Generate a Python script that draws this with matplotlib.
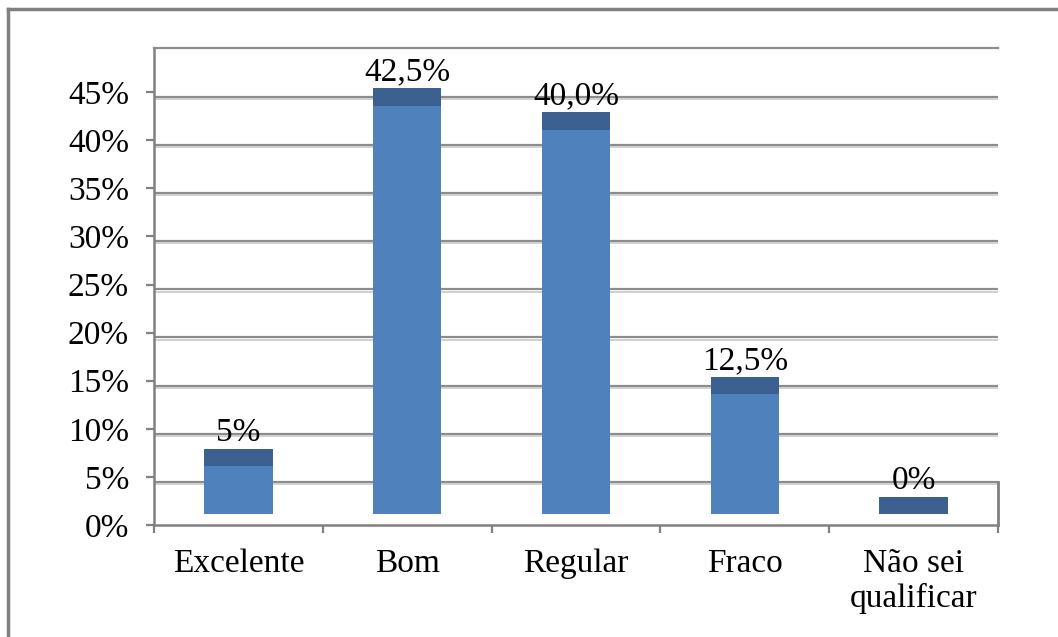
import matplotlib
matplotlib.use("Agg")
import matplotlib.pyplot as plt
from matplotlib.lines import Line2D

# respostas por categoria (%)
categorias = ["Excelente", "Bom", "Regular", "Fraco", "Não sei\nqualificar"]
valores = [5.0, 42.5, 40.0, 12.5, 0.0]
rotulos = ["5%", "42,5%", "40,0%", "12,5%", "0%"]
yticks = [0, 5, 10, 15, 20, 25, 30, 35, 40, 45]

fontsize = 24
cinza = "#808080"
azul = "#4F81BD"
azul_topo = "#3C6090"
piso = 1.1      # altura da base das barras (efeito 3D)
topo = 1.8      # face superior das barras
recuo = 0.5     # grade desenhada na parede do fundo

plt.rcParams["font.family"] = ["Liberation Serif", "DejaVu Serif"]

W, H = 1058, 637
fig = plt.figure(figsize=(W / 100, H / 100), dpi=100)
ax = fig.add_axes([154 / W, (H - 525) / H, (998 - 154) / W, (525 - 48) / H])

x = list(range(len(categorias)))
ax.set_xlim(-0.5, len(categorias) - 0.5)
ax.set_ylim(0, 49.6)

# grade da parede do fundo
for v in yticks[1:]:
    ax.axhline(v - recuo, color="#8C8C8C", lw=1.6, zorder=1)
    ax.axhline(v - recuo - 0.22, color="#D0D0D0", lw=1.4, zorder=1)
# canto do piso à direita
ax.plot([len(categorias) - 0.5] * 2, [0, 5 - recuo], color=cinza, lw=2,
        clip_on=False, zorder=1)

# barras: face frontal + face superior mais escura
ax.bar(x, valores, width=0.405, bottom=piso, color=azul, zorder=3)
topos = [piso + v for v in valores]
ax.bar(x, [topo] * len(x), width=0.405, bottom=topos, color=azul_topo, zorder=3)

for xi, v, r in zip(x, valores, rotulos):
    ax.text(xi, piso + v + topo + 0.8, r, ha="center", va="baseline",
            fontsize=fontsize, zorder=4)

ax.set_yticks(yticks)
ax.set_yticklabels(["%d%%" % v for v in yticks])
ax.set_xticks([i - 0.5 for i in range(len(categorias) + 1)])
ax.set_xticklabels([])
ax.set_xticks(x, minor=True)
ax.set_xticklabels(categorias, minor=True, linespacing=1.15)

ax.tick_params(axis="y", direction="out", length=6, width=1.6, color=cinza,
               labelsize=fontsize, pad=12)
ax.tick_params(axis="x", which="major", direction="out", length=6, width=1.6,
               color=cinza)
ax.tick_params(axis="x", which="minor", length=0, labelsize=fontsize, pad=17)

for s in ["left", "bottom"]:
    ax.spines[s].set_color(cinza)
    ax.spines[s].set_linewidth(1.8)
ax.spines["top"].set_color("#8C8C8C")
ax.spines["top"].set_linewidth(1.6)
ax.spines["right"].set_visible(False)

# moldura do gráfico
fig.add_artist(Line2D([8 / W, 8 / W], [1 - 9 / H, -0.1], transform=fig.transFigure,
                      color=cinza, lw=2.5))
fig.add_artist(Line2D([8 / W, 1.1], [1 - 9 / H, 1 - 9 / H], transform=fig.transFigure,
                      color=cinza, lw=2.5))

fig.savefig("out.png", dpi=100)
